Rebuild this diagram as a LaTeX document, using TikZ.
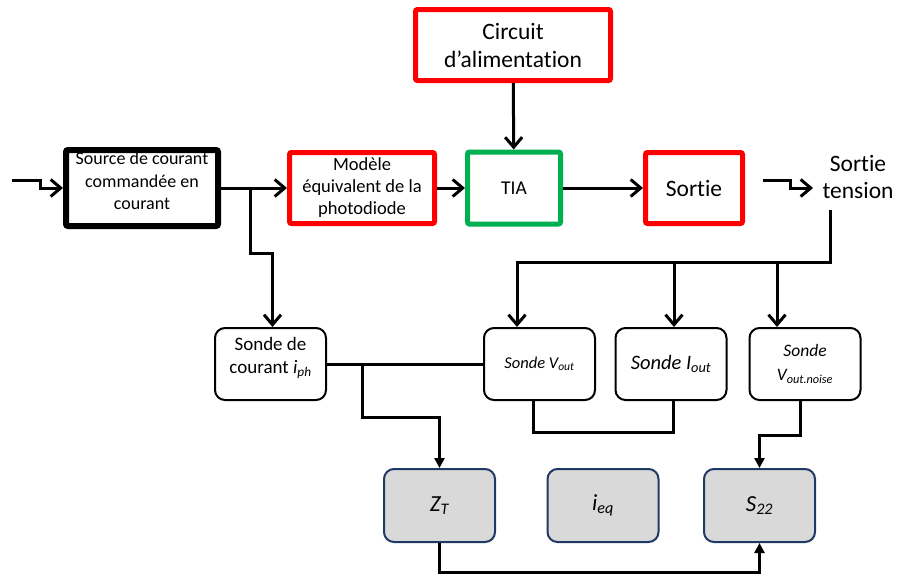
\documentclass[tikz,border=0pt]{standalone}
\usepackage{fontspec}
\setmainfont{Carlito}[Ligatures=NoCommon]
\usetikzlibrary{arrows.meta}
\definecolor{rouge}{RGB}{255,0,0}
\definecolor{vert}{RGB}{0,176,80}
\definecolor{bleufonce}{RGB}{32,56,100}
\definecolor{grisclair}{RGB}{217,217,217}
\tikzset{
  bloc/.style={draw, line width=5pt, rounded corners=2pt, align=center, inner sep=2pt},
  sonde/.style={draw, line width=2pt, rounded corners=10pt, minimum width=111pt, minimum height=72pt, align=center},
  param/.style={draw=bleufonce, fill=grisclair, line width=2pt, rounded corners=10pt, minimum width=111pt, minimum height=73pt, font=\fontsize{23}{27}\selectfont\itshape},
  fleche/.style={line width=3pt, -{Straight Barb[length=10pt,width=17pt]}},
  lien/.style={line width=3pt},
  pointe/.style={line width=3pt, -{Triangle[length=10pt,width=10pt]}}
}
\begin{document}
\begin{tikzpicture}[x=1pt,y=-1pt]
\useasboundingbox (0,0) rectangle (897,574);

\node[bloc, line width=6pt, minimum width=152pt, minimum height=75pt, font=\fontsize{18}{22.5}\selectfont] (source) at (142,188) {Source de courant\\commandée en\\courant\\[-8pt]};
\node[bloc, draw=rouge, minimum width=145pt, minimum height=71pt, font=\fontsize{18.5}{22}\selectfont] (modele) at (362,188) {Modèle\\équivalent de la\\photodiode};
\node[bloc, draw=vert, minimum width=93pt, minimum height=72pt, font=\fontsize{19.5}{23}\selectfont] (tia) at (514,188) {TIA};
\node[bloc, draw=rouge, minimum width=97pt, minimum height=71pt, font=\fontsize{23.5}{28}\selectfont] (sortie) at (694,188) {Sortie};
\node[bloc, draw=rouge, minimum width=195pt, minimum height=71pt, font=\fontsize{23.5}{28}\selectfont] (alim) at (513,45) {Circuit\\d’alimentation};
\node[align=center, inner sep=0pt, font=\fontsize{23.5}{27}\selectfont] (tension) at (858,177) {Sortie\\tension};

\node[sonde, font=\fontsize{19}{23}\selectfont] (sondeI) at (270.5,364) {Sonde de\\courant \textit{i}\textsubscript{\textit{ph}}\\[-6pt]};
\node[sonde, font=\fontsize{16.5}{20}\selectfont\itshape] (sondeV) at (539.5,364) {Sonde V\textsubscript{out}};
\node[sonde, font=\fontsize{20.5}{24}\selectfont\itshape] (sondeIout) at (671,364) {Sonde I\textsubscript{out}};
\node[sonde, font=\fontsize{17.5}{24}\selectfont\itshape] (sondeNoise) at (805,364) {Sonde\\V\textsubscript{out.noise}};

\node[param] (zt) at (439.5,505.5) {Z\textsubscript{T}};
\node[param] (ieq) at (603,505.5) {i\textsubscript{eq}};
\node[param] (s22) at (759.5,505.5) {S\textsubscript{22}};

\coordinate (in) at (12,180);
\coordinate (out) at (763,180);
\coordinate (tin) at (813,188);
\coordinate (tbas) at (830,210);
\coordinate (busR) at (830,262);
\coordinate (br1) at (250,188);
\coordinate (br2) at (362,364);

\draw[fleche] (in) -- ++(28,0) |- (source.west);
\draw[fleche] (source) -- (modele);
\draw[fleche] (modele) -- (tia);
\draw[fleche] (tia) -- (sortie);
\draw[fleche] (alim) -- (tia);
\draw[fleche] (out) -- ++(27,0) |- (tin);
\draw[fleche] (br1) -- ++(0,65) -| ([xshift=2pt]sondeI.north);

\draw[fleche] (tbas) -- (busR) -| ([xshift=-22.5pt]sondeV.north);
\draw[fleche] (busR) -| ([xshift=3pt]sondeIout.north);
\draw[fleche] (busR) -| ([xshift=-28pt]sondeNoise.north);

\draw[lien] (sondeI) -- (sondeV);
\draw[pointe] (br2) -- ++(0,53) -| (zt.north);
\draw[lien] ([xshift=-6.5pt]sondeV.south) -- ++(0,31) -| ([xshift=2pt]sondeIout.south);
\draw[pointe] ([xshift=-5pt]sondeNoise.south) -- ++(0,34) -| (s22.north);
\draw[pointe] (zt.south) -- ++(0,29) -| (s22.south);
\end{tikzpicture}
\end{document}
